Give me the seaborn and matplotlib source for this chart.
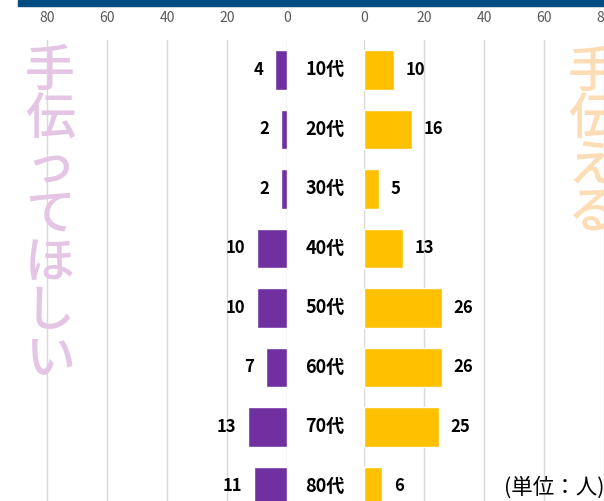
import matplotlib
matplotlib.use("Agg")
import matplotlib.pyplot as plt
import matplotlib.transforms as mtransforms
import seaborn as sns
import pandas as pd

sns.set_theme(style="white")
plt.rcParams["font.family"] = ["Noto Sans CJK JP", "DejaVu Sans"]

ages = ["10代", "20代", "30代", "40代", "50代", "60代", "70代", "80代"]
want_help = [4, 2, 2, 10, 10, 7, 13, 11]
can_help = [10, 16, 5, 13, 26, 26, 25, 6]
ticks = [0, 20, 40, 60, 80]

PURPLE = "#7030A0"
GOLD = "#FFC000"
GRID = "#D9D9D9"
TICK = "#595959"

W, H = 604, 501
fig = plt.figure(figsize=(W / 100, H / 100), dpi=100)


def px_axes(x0, x1, y0, y1):
    return fig.add_axes([x0 / W, 1 - y1 / H, (x1 - x0) / W, (y1 - y0) / H])


ax_l = px_axes(18, 287, 40, H)
ax_r = px_axes(364, 604, 40, H)

df = pd.DataFrame({"age": ages, "want": want_help, "can": can_help})
sns.barplot(data=df, x="want", y="age", orient="h", color=PURPLE,
            width=0.66, saturation=1, ax=ax_l)
sns.barplot(data=df, x="can", y="age", orient="h", color=GOLD,
            width=0.66, saturation=1, ax=ax_r)

ylim = (7.244, -0.504)
ax_l.set_xlim(89.67, 0)
ax_r.set_xlim(0, 80)
for ax in (ax_l, ax_r):
    ax.set_ylim(*ylim)
    ax.set_xticks(ticks)
    ax.set_xticklabels([str(t) for t in ticks])
    ax.xaxis.tick_top()
    ax.tick_params(axis="x", length=0, pad=11, labelsize=10, labelcolor=TICK)
    ax.set_yticks([])
    ax.set_xlabel("")
    ax.set_ylabel("")
    for s in ax.spines.values():
        s.set_visible(False)
    ax.set_axisbelow(True)
    ax.xaxis.grid(True, color=GRID, linewidth=1)
    ax.patch.set_alpha(0)

# value labels beside each bar
for i, v in enumerate(want_help):
    ax_l.annotate(str(v), (v, i), xytext=(-8.5, 0), textcoords="offset points",
                  ha="right", va="center", fontsize=12, fontweight="bold",
                  color="black")
for i, v in enumerate(can_help):
    ax_r.annotate(str(v), (v, i), xytext=(8.5, 0), textcoords="offset points",
                  ha="left", va="center", fontsize=12, fontweight="bold",
                  color="black")

# age labels in the centre column
trans = mtransforms.blended_transform_factory(fig.transFigure, ax_l.transData)
for i, a in enumerate(ages):
    ax_l.text(325 / W, i, a, transform=trans, ha="center", va="center",
              fontsize=13, fontweight="bold", color="black", clip_on=False)

# header band
fig.patches.append(plt.Rectangle((18 / W, 1 - 6 / H), (W - 18) / W, 6 / H,
                                 transform=fig.transFigure, color="#004C80",
                                 zorder=5))


# large vertical titles
def vertical_title(text, xc, ytop, pitch, color):
    for k, ch in enumerate(text):
        yc = ytop + pitch * (k + 0.5)
        fig.text(xc / W, 1 - yc / H, ch, ha="center", va="center",
                 fontsize=36, fontweight="medium", color=color, zorder=6)


vertical_title("手伝ってほしい", 50, 48, 48, "#E4C6E4")
vertical_title("手伝える", 593, 49, 47, "#FDDDB6")

fig.text(604 / W, 1 - 488 / H, "(単位：人)", ha="right", va="center",
         fontsize=15.5, color="black")

fig.savefig("out.png", dpi=100)
